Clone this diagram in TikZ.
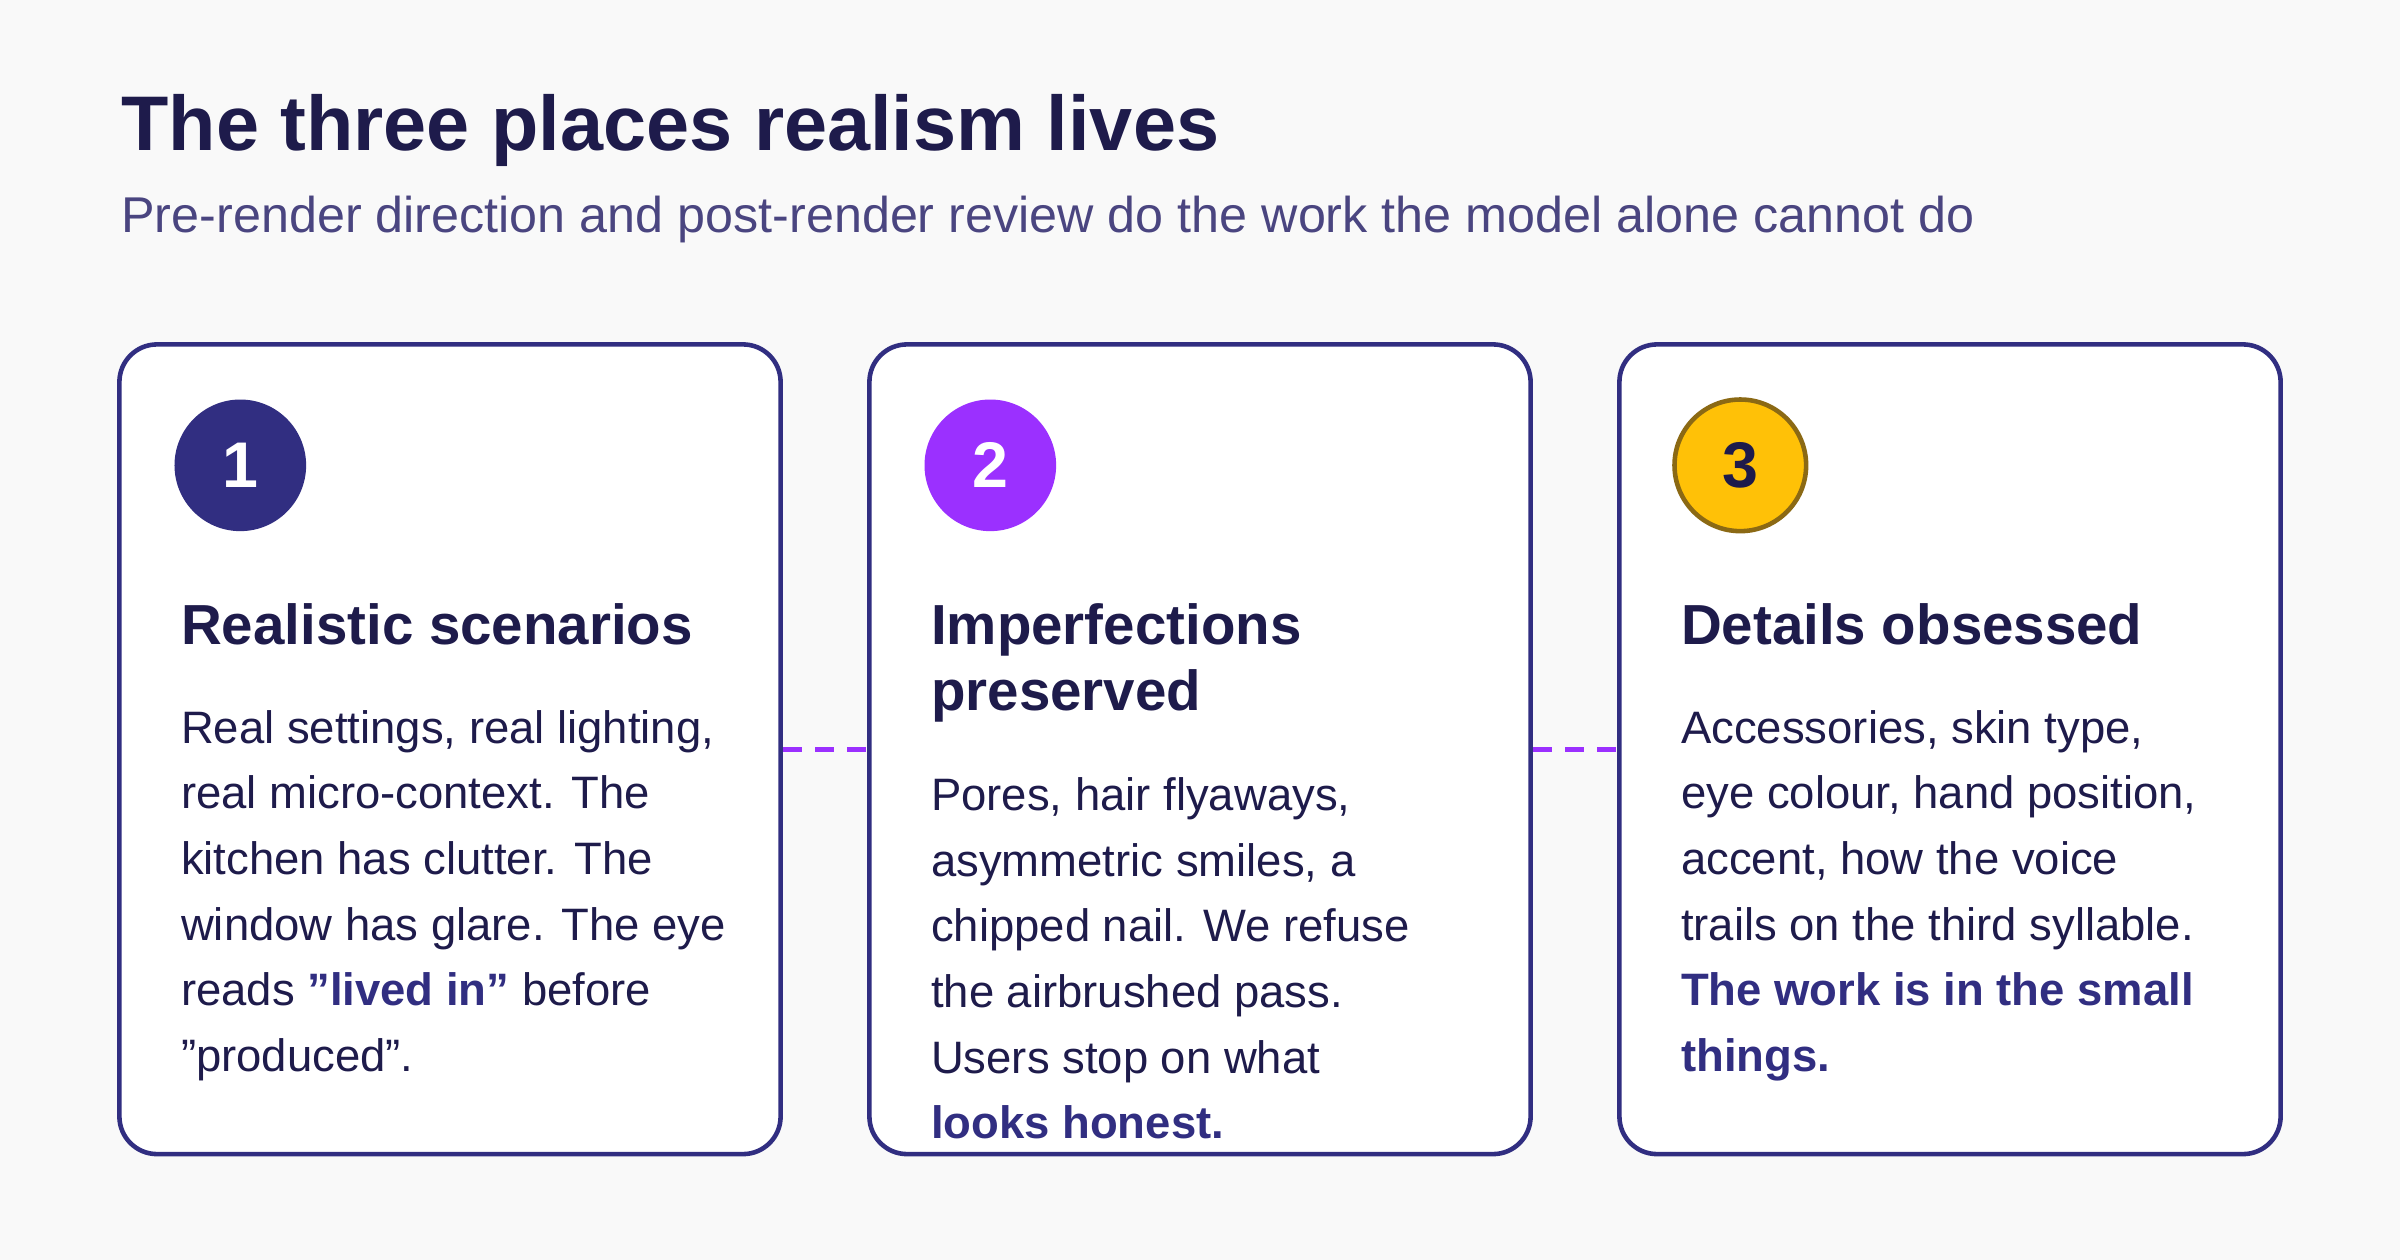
\documentclass[tikz,border=0pt]{standalone}
\usepackage{fontspec}
\setmainfont{Liberation Sans}
\usetikzlibrary{positioning}
\definecolor{bg_grey}{HTML}{F9F9F9}
\definecolor{ink}{HTML}{1E1B4B}
\definecolor{indigo}{HTML}{312E81}
\definecolor{subink}{HTML}{4A4580}
\definecolor{violet}{HTML}{9B30FF}
\definecolor{amber}{HTML}{FFC107}
\definecolor{amberedge}{HTML}{8B6914}
\tikzstyle{card}=[draw=indigo,fill=white,line width=1.7pt,rounded corners=14pt,
  minimum width=432*0.02cm,minimum height=529*0.02cm,inner sep=0pt]
\tikzstyle{badge}=[circle,minimum size=86*0.02cm,inner sep=0pt,text=white,
  font=\fontsize{24}{24}\selectfont\bfseries]
\tikzstyle{head}=[anchor=base west,inner sep=0pt,text=ink,align=left,
  font=\fontsize{21}{24.5}\selectfont\bfseries]
\tikzstyle{body}=[anchor=base west,inner sep=0pt,text=ink,align=left,
  font=\fontsize{16.9}{24.4}\selectfont]
\tikzstyle{link}=[violet,line width=1.7pt,dash pattern=on 7pt off 5pt]
\newcommand{\hl}[1]{\textbf{\textcolor{indigo}{#1}}}
\newcommand{\q}{\char34 }
\begin{document}
\begin{tikzpicture}[x=0.02cm,y=-0.02cm]
    \fill[bg_grey] (0,0) rectangle (1568,823);
    \node[anchor=base west,inner sep=0pt,text=ink,font=\fontsize{28.8}{30}\selectfont\bfseries] (title) at (79,98) {The three places realism lives};
    \node[anchor=base west,inner sep=0pt,text=subink,font=\fontsize{18.7}{20}\selectfont] (sub) at (79,152) {Pre-render direction and post-render review do the work the model alone cannot do};
    \node[card] (b1) at (294,489.5) {};
    \node[card] (b2) at (784,489.5) {};
    \node[card] (b3) at (1274,489.5) {};
    \draw[link] (b1.east) -- (b2.west);
    \draw[link] (b2.east) -- (b3.west);
    \node[badge,fill=indigo] (n1) at (157,304) {1};
    \node[badge,fill=violet] (n2) at (647,304) {2};
    \node[badge,fill=amber,draw=amberedge,line width=1.7pt,text=ink] (n3) at (1137,304) {3};
    % multi-line nodes sit on the baseline of their last line
    \node[head] (h1) at (118,421) {Realistic scenarios};
    \node[head] (h2) at (608,464) {Imperfections\\preserved};
    \node[head] (h3) at (1098,421) {Details obsessed};
    \node[body] (t1) at (118,700) {Real settings, real lighting,\\real micro-context. The\\kitchen has clutter. The\\window has glare. The eye\\reads \hl{\q lived in\q} before\\\q produced\q.};
    \node[body] (t2) at (608,744) {Pores, hair flyaways,\\asymmetric smiles, a\\chipped nail. We refuse\\the airbrushed pass.\\Users stop on what\\\hl{looks honest.}};
    \node[body] (t3) at (1098,700) {Accessories, skin type,\\eye colour, hand position,\\accent, how the voice\\trails on the third syllable.\\\hl{The work is in the small}\\\hl{things.}};
\end{tikzpicture}
\end{document}
